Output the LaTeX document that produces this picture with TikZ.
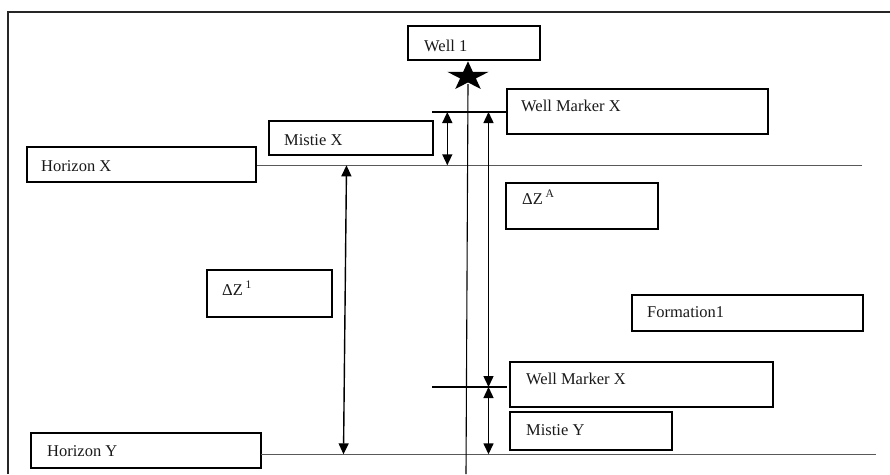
\documentclass[tikz,border=0pt]{standalone}
\usepackage{fontspec}
\setmainfont{Liberation Serif}
\usetikzlibrary{arrows.meta}
\tikzset{
  box/.style={draw=black, line width=1.6pt, rectangle, inner sep=0pt},
  lbl/.style={anchor=base west, inner sep=0pt, font=\fontsize{16.5}{20}\selectfont, text=black!90},
  hline/.style={draw=black!65, line width=1.3pt},
  thin/.style={draw=black, line width=1.1pt},
  dim/.style={draw=black, line width=1.4pt, {Triangle[width=10pt,length=11pt]}-{Triangle[width=10pt,length=11pt]}},
  frame/.style={draw=black!85, line width=1.8pt}
}
\begin{document}
\begin{tikzpicture}[x=1pt,y=-1pt]
\useasboundingbox (0,0) rectangle (890,474);
% frame
\coordinate (fTL) at (8,12);
\coordinate (fTR) at (890,12);
\coordinate (fBL) at (8,474);
\draw[frame] (fBL) -- (fTL) -- (fTR);

% boxes
\node[box, minimum width=132pt, minimum height=34pt] (well1) at (474,43) {};
\node[box, minimum width=261pt, minimum height=45pt] (wmx1) at (637.5,111.5) {};
\node[box, minimum width=164pt, minimum height=34pt] (mistx) at (351,138) {};
\node[box, minimum width=229pt, minimum height=35pt] (horx) at (141.5,164.5) {};
\node[box, minimum width=152pt, minimum height=46pt] (dza) at (582,206) {};
\node[box, minimum width=125pt, minimum height=47pt] (dz1) at (269.5,293.5) {};
\node[box, minimum width=231pt, minimum height=36pt] (form) at (747.5,313) {};
\node[box, minimum width=263pt, minimum height=45pt] (wmx2) at (641.5,384.5) {};
\node[box, minimum width=162pt, minimum height=38pt] (misty) at (591,431) {};
\node[box, minimum width=230pt, minimum height=35pt] (hory) at (146,450.5) {};

% labels
\node[lbl] (twell1) at (424,51.5) {Well 1};
\node[lbl] (twmx1) at (521,111.5) {Well Marker X};
\node[lbl] (tmistx) at (284,145) {Mistie X};
\node[lbl] (thorx) at (41,171) {Horizon X};
\node[lbl] (tdza) at (522,204) {ΔZ\,\textsuperscript{A}};
\node[lbl] (tdz1) at (222,295) {ΔZ\,\textsuperscript{1}};
\node[lbl] (tform) at (647,317) {Formation1};
\node[lbl] (twmx2) at (526,384) {Well Marker X};
\node[lbl] (tmisty) at (526,435) {Mistie Y};
\node[lbl] (thory) at (47,456) {Horizon Y};

% star
\fill[black, shift={(468,76.6)}, xscale=21.7, yscale=15.3]
  (0,-1) -- (0.2245,-0.309) -- (0.951,-0.309) -- (0.363,0.118) -- (0.588,0.809)
  -- (0,0.382) -- (-0.588,0.809) -- (-0.363,0.118) -- (-0.951,-0.309) -- (-0.2245,-0.309) -- cycle;

% key coordinates
\coordinate (wtop) at (468,84);
\coordinate (wbot) at (466,474);
\coordinate (m1L) at (432,112);
\coordinate (m1R) at (507,112);
\coordinate (m2L) at (432,387);
\coordinate (m2R) at (507,387);
\coordinate (hxR) at (862,165.3);
\coordinate (hyL) at (261,454.3);
\coordinate (hyR) at (876,454.3);
\coordinate (a1t) at (447.3,112);
\coordinate (a1b) at (447.3,165.3);
\coordinate (a2t) at (488.5,112);
\coordinate (a2b) at (488.5,387);
\coordinate (a3t) at (488.5,387);
\coordinate (a3b) at (488.5,454.3);
\coordinate (a4t) at (346.5,165.3);
\coordinate (a4b) at (343.5,454.3);

% horizon lines
\draw[hline] (horx.east |- hxR) -- (hxR);
\draw[hline] (hyL) -- (hyR);
% well line
\draw[thin] (wtop) -- (wbot);
% marker lines
\draw[thin] (m1L) -- (m1R);
\draw[thin] (m2L) -- (m2R);
% dimension arrows
\draw[dim] (a1t) -- (a1b);
\draw[dim] (a2t) -- (a2b);
\draw[dim] (a3t) -- (a3b);
\draw[dim] (a4t) -- (a4b);
\end{tikzpicture}
\end{document}
